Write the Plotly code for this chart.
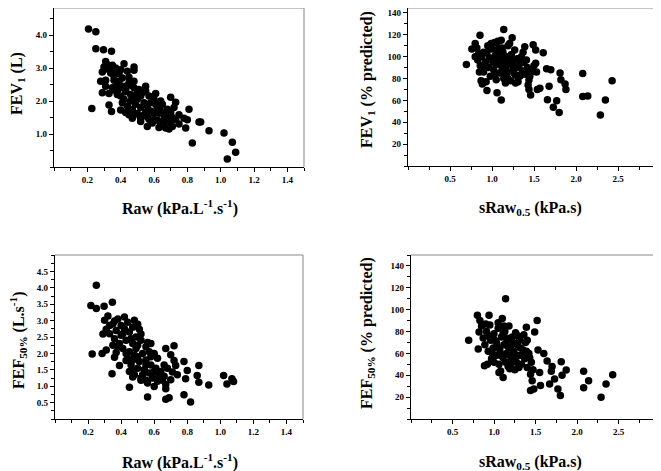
import plotly.graph_objects as go

# Panel A: FEV1 (L) vs Raw
raw_a = [0.207, 0.251, 0.251, 0.297, 0.345, 0.227, 0.31, 0.30, 0.35, 0.42, 0.48, 0.48, 0.29, 0.37, 0.39,
         0.28, 0.31, 0.36, 0.46, 0.55, 0.29, 0.33, 0.36, 0.39, 0.43, 0.50, 0.61, 0.70, 0.73, 0.33,
         0.345, 0.40, 0.45, 0.47, 0.52, 0.55, 0.56, 0.60, 0.63, 0.66, 0.67, 0.69, 0.71, 0.75, 0.78,
         0.79, 0.80, 0.81, 0.87, 0.88, 0.83, 0.93, 1.02, 1.07, 1.09, 1.04,
         0.33, 0.37, 0.40, 0.44, 0.36, 0.41, 0.45, 0.38, 0.42, 0.45, 0.48, 0.51, 0.53, 0.40, 0.46,
         0.50, 0.57, 0.60, 0.64, 0.41, 0.44, 0.46, 0.47, 0.49, 0.52, 0.54, 0.56, 0.58, 0.62, 0.65,
         0.68, 0.70, 0.72, 0.43, 0.50, 0.55, 0.60, 0.66, 0.48, 0.52, 0.57, 0.59, 0.62, 0.64, 0.68,
         0.70, 0.73, 0.75, 0.63, 0.69, 0.32, 0.34, 0.39, 0.43,
         0.38, 0.42, 0.47, 0.52, 0.55, 0.48, 0.58, 0.61, 0.45, 0.53, 0.56, 0.66, 0.71, 0.64, 0.35, 0.31]
fev1_l = [4.18, 4.10, 3.58, 3.55, 3.51, 1.77, 3.20, 3.03, 3.08, 3.13, 3.03, 2.93, 2.88, 2.88, 2.83,
          2.60, 2.63, 2.63, 2.48, 2.45, 2.25, 2.23, 2.33, 2.38, 2.28, 2.23, 2.23, 2.11, 1.96, 1.88,
          1.68, 1.73, 1.58, 1.48, 1.48, 1.58, 1.23, 1.43, 1.63, 1.33, 1.18, 1.53, 1.23, 1.58, 1.48,
          1.18, 1.43, 1.75, 1.36, 1.36, 0.73, 1.10, 1.03, 0.75, 0.45, 0.24,
          2.95, 3.00, 2.95, 2.90, 2.75, 2.70, 2.72, 2.50, 2.45, 2.55, 2.40, 2.35, 2.25, 2.15, 2.20,
          2.05, 2.15, 2.05, 2.00, 1.95, 1.85, 2.00, 1.75, 1.90, 1.80, 1.95, 1.85, 1.70, 1.80, 1.90,
          1.75, 1.65, 1.80, 1.65, 1.62, 1.65, 1.62, 1.60, 1.58, 1.38, 1.45, 1.33, 1.42, 1.28, 1.42,
          1.35, 1.45, 1.30, 1.20, 1.15, 3.10, 2.85, 2.60, 2.35,
          2.20, 2.05, 2.10, 2.15, 2.30, 2.60, 1.95, 1.90, 1.70, 1.55, 1.52, 1.45, 1.50, 1.70, 2.40, 2.45]

# Panel B: FEV1 (% predicted) vs sRaw0.5
sraw_b = [0.695, 0.857, 1.14, 1.24, 0.80, 1.03, 1.11, 1.49, 1.52, 1.61, 1.39, 0.94, 1.06, 1.11, 0.885,
          1.52, 1.53, 1.65, 1.70, 1.81, 1.82, 1.87, 1.88, 1.68, 1.57, 1.54, 1.44, 1.46, 1.66, 1.77,
          1.73, 1.80, 2.08, 2.08, 2.14, 2.43, 2.35, 2.29, 1.44, 1.34,
          0.82, 0.84, 0.83, 0.86, 0.88, 0.90, 0.92, 0.94, 0.96, 0.97, 0.98, 1.00, 1.01, 1.02, 1.04,
          1.05, 1.06, 1.08, 1.09, 1.10, 1.12, 1.13, 1.14, 1.15, 1.17, 1.18, 1.19, 1.20, 1.22, 1.23,
          1.25, 1.26, 1.27, 1.28, 1.30, 1.31, 1.32, 1.35, 1.36, 1.38, 1.40, 1.42, 1.45, 1.47, 1.50,
          0.87, 0.93, 1.16, 1.28, 1.43, 1.21, 1.07, 0.95, 0.76, 0.80,
          0.90, 0.99, 1.03, 1.06, 1.11, 1.12, 1.16, 1.18, 1.21, 1.24, 1.29, 1.33, 1.37, 1.41, 1.44,
          1.26, 1.15, 1.03, 0.91, 0.85, 1.19, 1.33]
fev1_pct = [92.9, 119.6, 124.8, 117.2, 112, 113, 115, 111, 106, 103.5, 109, 69, 67, 60.4, 75,
            94, 86, 89, 88, 85, 79, 75, 70, 73, 71, 70, 70, 65, 60.6, 59.7,
            53.7, 49, 84.7, 63.5, 64, 78, 60.4, 46.7, 78.6, 83,
            108, 103, 97, 92, 100, 86, 95, 104, 90, 99, 82, 107, 95, 88, 101,
            79, 93, 108, 85, 98, 90, 104, 80, 95, 100, 86, 110, 93, 78, 102,
            89, 96, 106, 83, 98, 77, 91, 100, 87, 95, 84, 90, 82, 86, 92,
            78, 77, 76, 76, 74, 112, 114, 110, 107, 100,
            104, 112, 98, 103, 95, 108, 90, 97, 100, 94, 90, 96, 104, 97, 88,
            85, 84, 84, 91, 86, 80, 82]

# Panel C: FEF50% (L/s) vs Raw
raw_c = [0.25, 0.217, 0.25, 0.297, 0.347, 0.225, 0.285, 0.31, 0.345, 0.29, 0.31, 0.30, 0.32, 0.36, 0.42,
         0.48, 0.50, 0.51, 0.52, 0.56, 0.60, 0.67, 0.72, 0.70, 0.72, 0.78, 0.73, 0.87, 0.80, 0.79,
         0.86, 0.87, 0.93, 0.78, 0.82, 0.67, 0.69, 0.56, 0.45, 0.60, 0.67, 1.02, 1.07, 1.08, 1.04,
         0.37, 0.36, 0.39, 0.43, 0.47, 0.47, 0.52, 0.55, 0.63, 0.65, 0.71,
         0.35, 0.38, 0.40, 0.44, 0.47, 0.33, 0.37, 0.41, 0.45, 0.49, 0.36, 0.39, 0.43, 0.47, 0.52,
         0.55, 0.41, 0.45, 0.49, 0.53, 0.57, 0.62, 0.44, 0.48, 0.51, 0.55, 0.58, 0.46, 0.50, 0.54,
         0.57, 0.61, 0.64, 0.66, 0.68, 0.48, 0.52, 0.59, 0.62, 0.67, 0.70, 0.74, 0.56, 0.66, 0.33,
         0.40, 0.58,
         0.42, 0.46, 0.50, 0.43, 0.47, 0.55, 0.60, 0.63, 0.53, 0.50, 0.38, 0.35, 0.58, 0.45]
fef_l = [4.08, 3.46, 3.37, 3.44, 3.56, 1.98, 2.00, 2.10, 1.38, 2.59, 2.74, 3.01, 3.14, 2.99, 3.11,
         3.01, 2.89, 2.74, 2.59, 2.33, 2.00, 2.15, 2.23, 1.96, 1.78, 1.75, 1.63, 1.63, 1.48, 1.23,
         1.33, 1.12, 1.04, 0.74, 0.52, 0.60, 0.65, 0.67, 0.97, 0.99, 0.92, 1.33, 1.23, 1.14, 1.07,
         2.03, 1.88, 1.63, 1.78, 1.48, 1.28, 1.18, 1.18, 1.38, 1.18, 1.43,
         2.90, 3.05, 2.85, 2.95, 2.80, 2.60, 2.70, 2.60, 2.65, 2.50, 2.45, 2.30, 2.40, 2.30, 2.40,
         2.20, 2.15, 2.05, 2.15, 2.00, 2.05, 1.85, 1.85, 1.95, 1.75, 1.80, 1.65, 1.65, 1.55, 1.50,
         1.40, 1.55, 1.45, 1.30, 1.55, 1.35, 1.25, 1.25, 1.15, 1.05, 1.20, 1.35, 1.10, 1.65, 2.85,
         2.55, 2.30,
         2.75, 2.45, 2.25, 2.00, 1.80, 1.65, 1.45, 1.30, 1.35, 1.90, 2.20, 2.25, 1.90, 1.45]

# Panel D: FEF50% (% predicted) vs sRaw0.5
sraw_d = [0.695, 1.14, 0.80, 0.94, 0.82, 0.81, 0.885, 1.06, 1.11, 1.52, 1.49, 1.39, 1.53, 1.60, 1.64,
          1.70, 1.81, 1.87, 1.82, 1.55, 1.44, 1.46, 1.48, 1.44, 1.56, 1.67, 1.73, 1.77, 1.80, 2.08,
          2.08, 2.14, 2.43, 2.35, 2.29, 1.69,
          0.83, 0.85, 0.87, 0.89, 0.91, 0.93, 0.95, 0.96, 0.97, 0.99, 1.00, 1.02, 1.03, 1.05, 1.06,
          1.07, 1.09, 1.10, 1.11, 1.12, 1.13, 1.15, 1.16, 1.17, 1.18, 1.20, 1.21, 1.22, 1.24, 1.25,
          1.26, 1.27, 1.28, 1.30, 1.31, 1.33, 1.35, 1.37, 1.38, 1.40, 1.42, 1.45, 1.47, 0.92, 1.00,
          1.08, 1.19, 1.29, 1.36, 1.40, 0.90,
          0.94, 0.98, 1.01, 1.04, 1.08, 1.11, 1.14, 1.17, 1.19, 1.23, 1.26, 1.32, 1.34, 1.39, 1.43,
          1.05, 1.12, 1.20, 1.30, 1.15]
fef_pct = [72, 110, 95, 95, 79.6, 64, 48.7, 42.6, 38, 90, 79.6, 84, 63, 60, 53,
           48, 52.3, 44.8, 40, 42.6, 41, 35, 27.5, 26, 30.6, 32, 36.6, 27.5, 21.6, 43.6,
           28.5, 35, 40.5, 32, 20, 43.6,
           90, 85, 74, 68, 80, 62, 86, 72, 55, 65, 78, 58, 70, 83, 50,
           63, 75, 92, 56, 68, 80, 60, 72, 48, 85, 65, 55, 75, 62, 45,
           79, 52, 68, 58, 72, 50, 63, 55, 70, 47, 60, 52, 45, 50, 52,
           44, 46, 76, 77, 72, 87,
           76, 60, 72, 66, 58, 78, 52, 66, 58, 70, 58, 65, 58, 62, 56,
           88, 85, 50, 47, 74]

raw_ticks = [0.2, 0.4, 0.6, 0.8, 1.0, 1.2, 1.4]
raw_labels = ["0.2", "0.4", "0.6", "0.8", "1.0", "1.2", "1.4"]
sraw_ticks = [0.5, 1.0, 1.5, 2.0, 2.5]
sraw_labels = ["0.5", "1.0", "1.5", "2.0", "2.5"]
fev_ticks = [1, 2, 3, 4]
fev_labels = ["1.0", "2.0", "3.0", "4.0"]
fef_ticks = [0.5, 1.0, 1.5, 2.0, 2.5, 3.0, 3.5, 4.0, 4.5]
fef_labels = ["0.5", "1.0", "1.5", "2.0", "2.5", "3.0", "3.5", "4.0", "4.5"]
pct_ticks = [20, 40, 60, 80, 100, 120, 140]
pct_labels = ["20", "40", "60", "80", "100", "120", "140"]

# the page body keeps its default 8px margin, so the figure starts at (8, 8)
OFF = 8
W, H = 661 - OFF, 471 - OFF
serif = "Liberation Serif, Times New Roman, serif"
tickfont = dict(family=serif, size=9, color="black", weight="bold")


def dom(a, b, total, flip=False):
    # page pixels -> paper fraction, clipped to the figure
    a, b = max(a - OFF, 0), min(b - OFF, total)
    if flip:
        return [1 - b / total, 1 - a / total]
    return [a / total, b / total]


def clipped_top(top, bottom, yr):
    # keep the data scale of the reference when the top edge is clipped
    if top >= OFF:
        return yr
    return [yr[0], yr[0] + (yr[1] - yr[0]) * (bottom - OFF) / (bottom - top)]


panels = [
    # x data, y data, x domain px, y domain px, x range, y range, ticks
    (raw_a, fev1_l, (54, 304), (2, 167), [0, 1.5], [0, 5],
     raw_ticks, raw_labels, 0.1, fev_ticks, fev_labels, 0.5),
    (sraw_b, fev1_pct, (408, 660), (2, 166), [0, 3], [0, 150],
     sraw_ticks, sraw_labels, 0.25, pct_ticks, pct_labels, 10),
    (raw_c, fef_l, (55, 303), (255, 419), [0, 1.5], [0, 5],
     raw_ticks, raw_labels, 0.1, fef_ticks, fef_labels, 0.25),
    (sraw_d, fef_pct, (411, 660), (255, 419), [0, 3], [0, 150],
     sraw_ticks, sraw_labels, 0.25, pct_ticks, pct_labels, 10),
]

fig = go.Figure()
layout = dict(width=W, height=H, margin=dict(l=0, r=0, t=0, b=0),
              paper_bgcolor="white", plot_bgcolor="white", showlegend=False)
shapes = []
for i, (xs, ys, xd, yd, xr, yr, xt, xl, xm, yt, yl, ym) in enumerate(panels, start=1):
    sfx = "" if i == 1 else str(i)
    fig.add_trace(go.Scatter(x=xs, y=ys, mode="markers", xaxis="x" + sfx, yaxis="y" + sfx,
                             marker=dict(size=7.5, color="black", line=dict(width=0)),
                             cliponaxis=False))
    layout["xaxis" + sfx] = dict(domain=dom(*xd, W), range=xr, anchor="y" + sfx,
                                 tickvals=xt, ticktext=xl, ticks="outside", ticklen=4,
                                 tickcolor="black", showline=True, linecolor="black",
                                 linewidth=1.3, showgrid=False, zeroline=False,
                                 tickfont=tickfont,
                                 minor=dict(dtick=xm, tick0=0, ticks="outside", ticklen=3,
                                            tickcolor="black", showgrid=False))
    layout["yaxis" + sfx] = dict(domain=dom(*yd, H, flip=True), range=clipped_top(*yd, yr),
                                 anchor="x" + sfx,
                                 tickvals=yt, ticktext=yl, ticks="outside", ticklen=4,
                                 tickcolor="black", showline=True, linecolor="black",
                                 linewidth=1.3, showgrid=False, zeroline=False,
                                 tickfont=tickfont,
                                 minor=dict(dtick=ym, tick0=0, ticks="outside", ticklen=3,
                                            tickcolor="black", showgrid=False))
    # grey top and right frame
    shapes.append(dict(type="line", xref="x%s domain" % sfx, yref="y%s domain" % sfx,
                       x0=0, x1=1, y0=1, y1=1, line=dict(color="#8a8a8a", width=1.2)))
    shapes.append(dict(type="line", xref="x%s domain" % sfx, yref="y%s domain" % sfx,
                       x0=1, x1=1, y0=0, y1=1, line=dict(color="#9a9a9a", width=1.2)))

titlefont = dict(family=serif, size=16, color="black", weight="bold")
titles = [
    ("FEV<sub>1</sub> (L)", 18, 84, -90),
    ("Raw (kPa.L<sup>-1</sup>.s<sup>-1</sup>)", 180, 207, 0),
    ("FEV<sub>1</sub> (% predicted)", 367, 80, -90),
    ("sRaw<sub>0.5</sub> (kPa.s)", 530, 208, 0),
    ("FEF<sub>50%</sub> (L.s<sup>-1</sup>)", 18, 341, -90),
    ("Raw (kPa.L<sup>-1</sup>.s<sup>-1</sup>)", 180, 461, 0),
    ("FEF<sub>50%</sub> (% predicted)", 367, 333, -90),
    ("sRaw<sub>0.5</sub> (kPa.s)", 530, 462, 0),
]
annotations = []
for text, px, py, ang in titles:
    annotations.append(dict(text=text, xref="paper", yref="paper",
                            x=(px - OFF) / W, y=1 - (py - OFF) / H,
                            xanchor="center", yanchor="middle", showarrow=False,
                            textangle=ang, font=titlefont))

layout["shapes"] = shapes
layout["annotations"] = annotations
fig.update_layout(**layout)
fig.write_html("out.html")
